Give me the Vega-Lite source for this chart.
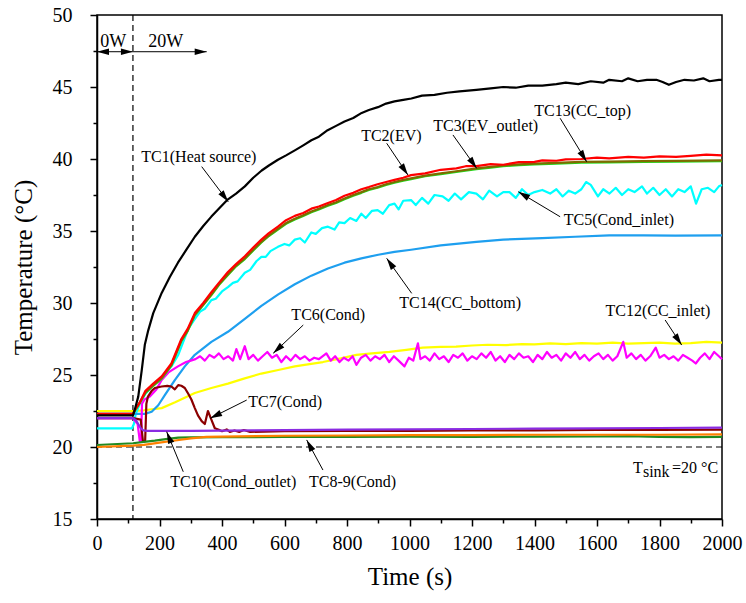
{
  "$schema": "https://vega.github.io/schema/vega-lite/v6.json",
  "width": 625,
  "height": 504,
  "autosize": {"type": "none"},
  "padding": {"left": 97, "top": 15, "right": 24, "bottom": 84},
  "background": "white",
  "config": {
    "font": "Liberation Serif",
    "view": {"stroke": "black", "strokeWidth": 1.5},
    "axis": {"labelFont": "Liberation Serif", "titleFont": "Liberation Serif", "labelFontSize": 20, "titleFontSize": 25, "titleFontWeight": "normal", "labelColor": "black", "titleColor": "black", "domainColor": "black", "tickColor": "black", "domainWidth": 1.5, "tickWidth": 1.5, "grid": false}
  },
  "datasets": {
    "lines": [
      {"s":"TC12","t":0,"v":22.5},{"s":"TC12","t":115,"v":22.5},{"s":"TC12","t":150,"v":22.55},{"s":"TC12","t":207,"v":22.7},{"s":"TC12","t":250,"v":23.1},{"s":"TC12","t":313,"v":23.75},{"s":"TC12","t":366,"v":24.1},{"s":"TC12","t":419,"v":24.4},{"s":"TC12","t":470,"v":24.75},{"s":"TC12","t":526,"v":25.1},{"s":"TC12","t":580,"v":25.35},{"s":"TC12","t":633,"v":25.6},{"s":"TC12","t":680,"v":25.75},{"s":"TC12","t":723,"v":25.9},{"s":"TC12","t":780,"v":26.15},{"s":"TC12","t":830,"v":26.4},{"s":"TC12","t":880,"v":26.5},{"s":"TC12","t":936,"v":26.6},{"s":"TC12","t":990,"v":26.75},{"s":"TC12","t":1042,"v":26.9},{"s":"TC12","t":1100,"v":26.95},{"s":"TC12","t":1149,"v":26.97},{"s":"TC12","t":1200,"v":27.05},{"s":"TC12","t":1250,"v":27.1},{"s":"TC12","t":1309,"v":27.08},{"s":"TC12","t":1360,"v":27.15},{"s":"TC12","t":1400,"v":27.12},{"s":"TC12","t":1450,"v":27.2},{"s":"TC12","t":1500,"v":27.14},{"s":"TC12","t":1550,"v":27.22},{"s":"TC12","t":1600,"v":27.18},{"s":"TC12","t":1650,"v":27.25},{"s":"TC12","t":1700,"v":27.18},{"s":"TC12","t":1750,"v":27.22},{"s":"TC12","t":1800,"v":27.25},{"s":"TC12","t":1850,"v":27.18},{"s":"TC12","t":1900,"v":27.22},{"s":"TC12","t":1950,"v":27.3},{"s":"TC12","t":2000,"v":27.25},

      {"s":"TC5","t":0,"v":21.3},{"s":"TC5","t":112,"v":21.3},{"s":"TC5","t":118,"v":21.6},{"s":"TC5","t":124,"v":22.3},{"s":"TC5","t":137,"v":23.0},{"s":"TC5","t":155,"v":23.7},{"s":"TC5","t":180,"v":24.3},{"s":"TC5","t":207,"v":24.8},{"s":"TC5","t":238,"v":25.6},{"s":"TC5","t":260,"v":26.4},{"s":"TC5","t":292,"v":28.2},{"s":"TC5","t":310,"v":28.8},{"s":"TC5","t":330,"v":29.4},{"s":"TC5","t":345,"v":29.6},{"s":"TC5","t":366,"v":30.2},{"s":"TC5","t":380,"v":30.3},{"s":"TC5","t":400,"v":30.8},{"s":"TC5","t":419,"v":31.1},{"s":"TC5","t":435,"v":31.4},{"s":"TC5","t":450,"v":31.5},{"s":"TC5","t":473,"v":32.1},{"s":"TC5","t":490,"v":32.3},{"s":"TC5","t":510,"v":32.9},{"s":"TC5","t":526,"v":33.2},{"s":"TC5","t":540,"v":33.2},{"s":"TC5","t":555,"v":33.6},{"s":"TC5","t":579,"v":33.9},{"s":"TC5","t":600,"v":34.1},{"s":"TC5","t":615,"v":34.0},{"s":"TC5","t":633,"v":34.4},{"s":"TC5","t":650,"v":34.5},{"s":"TC5","t":665,"v":34.2},{"s":"TC5","t":686,"v":34.9},{"s":"TC5","t":700,"v":34.8},{"s":"TC5","t":720,"v":35.2},{"s":"TC5","t":739,"v":35.3},{"s":"TC5","t":760,"v":35.1},{"s":"TC5","t":775,"v":35.6},{"s":"TC5","t":792,"v":35.55},{"s":"TC5","t":810,"v":35.9},{"s":"TC5","t":830,"v":35.7},{"s":"TC5","t":846,"v":36.2},{"s":"TC5","t":860,"v":35.9},{"s":"TC5","t":880,"v":36.4},{"s":"TC5","t":898,"v":36.45},{"s":"TC5","t":915,"v":36.2},{"s":"TC5","t":935,"v":36.8},{"s":"TC5","t":952,"v":36.9},{"s":"TC5","t":965,"v":36.5},{"s":"TC5","t":980,"v":37.1},{"s":"TC5","t":1005,"v":37.15},{"s":"TC5","t":1020,"v":36.8},{"s":"TC5","t":1040,"v":37.3},{"s":"TC5","t":1060,"v":36.9},{"s":"TC5","t":1080,"v":37.5},{"s":"TC5","t":1106,"v":37.4},{"s":"TC5","t":1125,"v":37.1},{"s":"TC5","t":1145,"v":37.6},{"s":"TC5","t":1165,"v":37.2},{"s":"TC5","t":1190,"v":37.7},{"s":"TC5","t":1214,"v":37.6},{"s":"TC5","t":1235,"v":37.2},{"s":"TC5","t":1255,"v":37.8},{"s":"TC5","t":1280,"v":37.4},{"s":"TC5","t":1300,"v":37.7},{"s":"TC5","t":1320,"v":37.7},{"s":"TC5","t":1340,"v":37.3},{"s":"TC5","t":1360,"v":37.9},{"s":"TC5","t":1380,"v":37.5},{"s":"TC5","t":1400,"v":37.7},{"s":"TC5","t":1425,"v":37.85},{"s":"TC5","t":1450,"v":37.6},{"s":"TC5","t":1470,"v":37.9},{"s":"TC5","t":1490,"v":37.4},{"s":"TC5","t":1510,"v":37.8},{"s":"TC5","t":1530,"v":37.6},{"s":"TC5","t":1550,"v":37.9},{"s":"TC5","t":1565,"v":38.4},{"s":"TC5","t":1580,"v":38.2},{"s":"TC5","t":1603,"v":37.4},{"s":"TC5","t":1620,"v":37.9},{"s":"TC5","t":1640,"v":37.6},{"s":"TC5","t":1660,"v":38.0},{"s":"TC5","t":1680,"v":37.5},{"s":"TC5","t":1700,"v":37.9},{"s":"TC5","t":1720,"v":37.7},{"s":"TC5","t":1744,"v":38.1},{"s":"TC5","t":1760,"v":37.6},{"s":"TC5","t":1780,"v":38.0},{"s":"TC5","t":1800,"v":37.5},{"s":"TC5","t":1820,"v":37.9},{"s":"TC5","t":1840,"v":37.4},{"s":"TC5","t":1860,"v":37.9},{"s":"TC5","t":1880,"v":37.7},{"s":"TC5","t":1900,"v":38.1},{"s":"TC5","t":1917,"v":36.9},{"s":"TC5","t":1935,"v":37.9},{"s":"TC5","t":1955,"v":38.0},{"s":"TC5","t":1975,"v":37.7},{"s":"TC5","t":1990,"v":38.1},{"s":"TC5","t":2000,"v":38.2},

      {"s":"TC14","t":0,"v":22.3},{"s":"TC14","t":115,"v":22.3},{"s":"TC14","t":153,"v":22.3},{"s":"TC14","t":175,"v":22.45},{"s":"TC14","t":196,"v":22.9},{"s":"TC14","t":217,"v":23.6},{"s":"TC14","t":249,"v":24.65},{"s":"TC14","t":281,"v":25.6},{"s":"TC14","t":313,"v":26.4},{"s":"TC14","t":366,"v":27.3},{"s":"TC14","t":419,"v":28.0},{"s":"TC14","t":473,"v":28.9},{"s":"TC14","t":526,"v":29.8},{"s":"TC14","t":580,"v":30.6},{"s":"TC14","t":633,"v":31.3},{"s":"TC14","t":686,"v":31.9},{"s":"TC14","t":739,"v":32.4},{"s":"TC14","t":792,"v":32.8},{"s":"TC14","t":846,"v":33.1},{"s":"TC14","t":900,"v":33.35},{"s":"TC14","t":952,"v":33.55},{"s":"TC14","t":1005,"v":33.7},{"s":"TC14","t":1100,"v":34.0},{"s":"TC14","t":1214,"v":34.25},{"s":"TC14","t":1300,"v":34.4},{"s":"TC14","t":1425,"v":34.5},{"s":"TC14","t":1530,"v":34.6},{"s":"TC14","t":1639,"v":34.7},{"s":"TC14","t":1750,"v":34.7},{"s":"TC14","t":1850,"v":34.68},{"s":"TC14","t":2000,"v":34.7},

      {"s":"TC6","t":0,"v":22.0},{"s":"TC6","t":115,"v":22.0},{"s":"TC6","t":130,"v":21.6},{"s":"TC6","t":137,"v":20.4},{"s":"TC6","t":141,"v":20.4},{"s":"TC6","t":144,"v":23.0},{"s":"TC6","t":152,"v":23.3},{"s":"TC6","t":169,"v":23.5},{"s":"TC6","t":190,"v":24.0},{"s":"TC6","t":207,"v":24.65},{"s":"TC6","t":230,"v":25.2},{"s":"TC6","t":259,"v":25.6},{"s":"TC6","t":285,"v":25.9},{"s":"TC6","t":300,"v":26.0},{"s":"TC6","t":315,"v":26.1},{"s":"TC6","t":330,"v":26.3},{"s":"TC6","t":345,"v":26.0},{"s":"TC6","t":360,"v":26.4},{"s":"TC6","t":375,"v":26.2},{"s":"TC6","t":390,"v":26.5},{"s":"TC6","t":405,"v":26.1},{"s":"TC6","t":420,"v":26.3},{"s":"TC6","t":435,"v":26.0},{"s":"TC6","t":446,"v":26.8},{"s":"TC6","t":458,"v":26.1},{"s":"TC6","t":473,"v":27.0},{"s":"TC6","t":485,"v":26.1},{"s":"TC6","t":500,"v":26.4},{"s":"TC6","t":515,"v":26.0},{"s":"TC6","t":530,"v":26.3},{"s":"TC6","t":545,"v":26.6},{"s":"TC6","t":560,"v":26.2},{"s":"TC6","t":575,"v":26.4},{"s":"TC6","t":590,"v":25.9},{"s":"TC6","t":605,"v":26.3},{"s":"TC6","t":620,"v":26.0},{"s":"TC6","t":635,"v":26.4},{"s":"TC6","t":650,"v":26.1},{"s":"TC6","t":665,"v":26.3},{"s":"TC6","t":680,"v":26.0},{"s":"TC6","t":695,"v":26.2},{"s":"TC6","t":710,"v":26.1},{"s":"TC6","t":734,"v":26.5},{"s":"TC6","t":748,"v":26.0},{"s":"TC6","t":762,"v":26.3},{"s":"TC6","t":776,"v":25.9},{"s":"TC6","t":790,"v":26.2},{"s":"TC6","t":805,"v":26.0},{"s":"TC6","t":818,"v":26.3},{"s":"TC6","t":830,"v":25.7},{"s":"TC6","t":845,"v":26.2},{"s":"TC6","t":860,"v":26.4},{"s":"TC6","t":875,"v":26.0},{"s":"TC6","t":890,"v":26.3},{"s":"TC6","t":905,"v":26.1},{"s":"TC6","t":920,"v":26.4},{"s":"TC6","t":935,"v":25.9},{"s":"TC6","t":950,"v":26.3},{"s":"TC6","t":965,"v":26.0},{"s":"TC6","t":984,"v":25.6},{"s":"TC6","t":998,"v":26.2},{"s":"TC6","t":1012,"v":26.0},{"s":"TC6","t":1027,"v":27.2},{"s":"TC6","t":1035,"v":26.1},{"s":"TC6","t":1050,"v":26.3},{"s":"TC6","t":1065,"v":26.0},{"s":"TC6","t":1080,"v":26.5},{"s":"TC6","t":1095,"v":26.1},{"s":"TC6","t":1110,"v":26.3},{"s":"TC6","t":1125,"v":25.9},{"s":"TC6","t":1140,"v":26.4},{"s":"TC6","t":1155,"v":26.2},{"s":"TC6","t":1170,"v":26.5},{"s":"TC6","t":1185,"v":26.0},{"s":"TC6","t":1200,"v":26.3},{"s":"TC6","t":1215,"v":26.1},{"s":"TC6","t":1230,"v":26.5},{"s":"TC6","t":1245,"v":26.2},{"s":"TC6","t":1260,"v":26.6},{"s":"TC6","t":1275,"v":26.0},{"s":"TC6","t":1290,"v":26.3},{"s":"TC6","t":1305,"v":25.9},{"s":"TC6","t":1320,"v":26.4},{"s":"TC6","t":1335,"v":26.1},{"s":"TC6","t":1350,"v":26.5},{"s":"TC6","t":1365,"v":26.2},{"s":"TC6","t":1380,"v":26.3},{"s":"TC6","t":1395,"v":25.9},{"s":"TC6","t":1410,"v":26.4},{"s":"TC6","t":1425,"v":26.1},{"s":"TC6","t":1440,"v":26.6},{"s":"TC6","t":1455,"v":26.2},{"s":"TC6","t":1470,"v":26.4},{"s":"TC6","t":1485,"v":26.0},{"s":"TC6","t":1500,"v":26.5},{"s":"TC6","t":1515,"v":26.2},{"s":"TC6","t":1530,"v":26.6},{"s":"TC6","t":1545,"v":26.1},{"s":"TC6","t":1560,"v":26.4},{"s":"TC6","t":1575,"v":26.0},{"s":"TC6","t":1590,"v":26.3},{"s":"TC6","t":1605,"v":26.5},{"s":"TC6","t":1620,"v":26.1},{"s":"TC6","t":1635,"v":26.4},{"s":"TC6","t":1650,"v":26.0},{"s":"TC6","t":1665,"v":26.3},{"s":"TC6","t":1684,"v":27.3},{"s":"TC6","t":1695,"v":26.2},{"s":"TC6","t":1710,"v":26.5},{"s":"TC6","t":1725,"v":26.1},{"s":"TC6","t":1740,"v":26.4},{"s":"TC6","t":1755,"v":26.0},{"s":"TC6","t":1770,"v":26.3},{"s":"TC6","t":1788,"v":26.9},{"s":"TC6","t":1800,"v":26.2},{"s":"TC6","t":1815,"v":26.4},{"s":"TC6","t":1830,"v":26.1},{"s":"TC6","t":1845,"v":26.3},{"s":"TC6","t":1860,"v":26.0},{"s":"TC6","t":1875,"v":26.4},{"s":"TC6","t":1890,"v":26.2},{"s":"TC6","t":1905,"v":26.0},{"s":"TC6","t":1916,"v":25.8},{"s":"TC6","t":1930,"v":26.2},{"s":"TC6","t":1945,"v":26.5},{"s":"TC6","t":1960,"v":26.1},{"s":"TC6","t":1975,"v":26.6},{"s":"TC6","t":1990,"v":26.3},{"s":"TC6","t":2000,"v":26.1},

      {"s":"TC7","t":0,"v":22.0},{"s":"TC7","t":115,"v":22.0},{"s":"TC7","t":140,"v":21.9},{"s":"TC7","t":147,"v":20.4},{"s":"TC7","t":154,"v":20.4},{"s":"TC7","t":158,"v":23.0},{"s":"TC7","t":163,"v":23.5},{"s":"TC7","t":175,"v":23.9},{"s":"TC7","t":185,"v":24.1},{"s":"TC7","t":207,"v":24.2},{"s":"TC7","t":225,"v":24.25},{"s":"TC7","t":238,"v":24.2},{"s":"TC7","t":249,"v":24.0},{"s":"TC7","t":260,"v":24.3},{"s":"TC7","t":270,"v":24.25},{"s":"TC7","t":281,"v":24.1},{"s":"TC7","t":292,"v":23.7},{"s":"TC7","t":302,"v":23.3},{"s":"TC7","t":313,"v":22.7},{"s":"TC7","t":323,"v":22.2},{"s":"TC7","t":335,"v":21.8},{"s":"TC7","t":345,"v":21.6},{"s":"TC7","t":355,"v":22.5},{"s":"TC7","t":366,"v":21.9},{"s":"TC7","t":377,"v":21.3},{"s":"TC7","t":390,"v":21.2},{"s":"TC7","t":400,"v":21.1},{"s":"TC7","t":415,"v":21.22},{"s":"TC7","t":425,"v":21.05},{"s":"TC7","t":440,"v":21.15},{"s":"TC7","t":455,"v":21.05},{"s":"TC7","t":470,"v":21.18},{"s":"TC7","t":490,"v":21.05},{"s":"TC7","t":600,"v":21.1},{"s":"TC7","t":800,"v":21.12},{"s":"TC7","t":1000,"v":21.12},{"s":"TC7","t":1200,"v":21.15},{"s":"TC7","t":1400,"v":21.15},{"s":"TC7","t":1600,"v":21.18},{"s":"TC7","t":1800,"v":21.18},{"s":"TC7","t":2000,"v":21.2},

      {"s":"TC8","t":0,"v":20.14},{"s":"TC8","t":115,"v":20.26},{"s":"TC8","t":150,"v":20.35},{"s":"TC8","t":185,"v":20.44},{"s":"TC8","t":220,"v":20.55},{"s":"TC8","t":260,"v":20.65},{"s":"TC8","t":300,"v":20.67},{"s":"TC8","t":400,"v":20.68},{"s":"TC8","t":600,"v":20.7},{"s":"TC8","t":800,"v":20.7},{"s":"TC8","t":1000,"v":20.72},{"s":"TC8","t":1200,"v":20.7},{"s":"TC8","t":1400,"v":20.72},{"s":"TC8","t":1600,"v":20.73},{"s":"TC8","t":1700,"v":20.75},{"s":"TC8","t":1800,"v":20.7},{"s":"TC8","t":1900,"v":20.68},{"s":"TC8","t":2000,"v":20.7},

      {"s":"TC9","t":0,"v":20.0},{"s":"TC9","t":115,"v":20.1},{"s":"TC9","t":150,"v":20.15},{"s":"TC9","t":200,"v":20.3},{"s":"TC9","t":250,"v":20.45},{"s":"TC9","t":300,"v":20.6},{"s":"TC9","t":350,"v":20.7},{"s":"TC9","t":400,"v":20.72},{"s":"TC9","t":600,"v":20.78},{"s":"TC9","t":800,"v":20.8},{"s":"TC9","t":1000,"v":20.82},{"s":"TC9","t":1200,"v":20.83},{"s":"TC9","t":1400,"v":20.85},{"s":"TC9","t":1600,"v":20.85},{"s":"TC9","t":1800,"v":20.85},{"s":"TC9","t":2000,"v":20.87},

      {"s":"TC10","t":0,"v":22.0},{"s":"TC10","t":115,"v":22.0},{"s":"TC10","t":125,"v":21.85},{"s":"TC10","t":132,"v":21.6},{"s":"TC10","t":140,"v":21.3},{"s":"TC10","t":148,"v":21.15},{"s":"TC10","t":160,"v":21.12},{"s":"TC10","t":300,"v":21.12},{"s":"TC10","t":500,"v":21.15},{"s":"TC10","t":800,"v":21.2},{"s":"TC10","t":1000,"v":21.22},{"s":"TC10","t":1200,"v":21.25},{"s":"TC10","t":1400,"v":21.28},{"s":"TC10","t":1600,"v":21.3},{"s":"TC10","t":1800,"v":21.32},{"s":"TC10","t":2000,"v":21.35},

      {"s":"TC3","t":0,"v":22.25},{"s":"TC3","t":115,"v":22.25},{"s":"TC3","t":122,"v":22.55},{"s":"TC3","t":137,"v":23.05},{"s":"TC3","t":155,"v":23.75},{"s":"TC3","t":180,"v":24.25},{"s":"TC3","t":207,"v":24.75},{"s":"TC3","t":238,"v":25.65},{"s":"TC3","t":255,"v":26.55},{"s":"TC3","t":270,"v":27.35},{"s":"TC3","t":290,"v":28.05},{"s":"TC3","t":313,"v":29.15},{"s":"TC3","t":340,"v":29.85},{"s":"TC3","t":366,"v":30.55},{"s":"TC3","t":390,"v":31.25},{"s":"TC3","t":419,"v":31.95},{"s":"TC3","t":445,"v":32.55},{"s":"TC3","t":473,"v":33.05},{"s":"TC3","t":500,"v":33.65},{"s":"TC3","t":526,"v":34.2},{"s":"TC3","t":550,"v":34.65},{"s":"TC3","t":579,"v":35.1},{"s":"TC3","t":605,"v":35.5},{"s":"TC3","t":633,"v":35.8},{"s":"TC3","t":660,"v":36.05},{"s":"TC3","t":686,"v":36.3},{"s":"TC3","t":710,"v":36.5},{"s":"TC3","t":739,"v":36.75},{"s":"TC3","t":765,"v":36.95},{"s":"TC3","t":792,"v":37.2},{"s":"TC3","t":820,"v":37.45},{"s":"TC3","t":846,"v":37.65},{"s":"TC3","t":870,"v":37.85},{"s":"TC3","t":898,"v":38.0},{"s":"TC3","t":925,"v":38.2},{"s":"TC3","t":952,"v":38.35},{"s":"TC3","t":980,"v":38.5},{"s":"TC3","t":1005,"v":38.6},{"s":"TC3","t":1050,"v":38.8},{"s":"TC3","t":1100,"v":38.95},{"s":"TC3","t":1150,"v":39.1},{"s":"TC3","t":1214,"v":39.3},{"s":"TC3","t":1260,"v":39.4},{"s":"TC3","t":1300,"v":39.5},{"s":"TC3","t":1350,"v":39.57},{"s":"TC3","t":1400,"v":39.63},{"s":"TC3","t":1470,"v":39.68},{"s":"TC3","t":1550,"v":39.75},{"s":"TC3","t":1639,"v":39.77},{"s":"TC3","t":1750,"v":39.8},{"s":"TC3","t":1853,"v":39.82},{"s":"TC3","t":2000,"v":39.85},

      {"s":"TC13","t":0,"v":22.3},{"s":"TC13","t":115,"v":22.3},{"s":"TC13","t":122,"v":22.6},{"s":"TC13","t":137,"v":23.1},{"s":"TC13","t":155,"v":23.8},{"s":"TC13","t":180,"v":24.3},{"s":"TC13","t":207,"v":24.8},{"s":"TC13","t":238,"v":25.7},{"s":"TC13","t":255,"v":26.6},{"s":"TC13","t":270,"v":27.4},{"s":"TC13","t":290,"v":28.1},{"s":"TC13","t":313,"v":29.2},{"s":"TC13","t":340,"v":29.9},{"s":"TC13","t":366,"v":30.6},{"s":"TC13","t":390,"v":31.3},{"s":"TC13","t":419,"v":32.0},{"s":"TC13","t":445,"v":32.6},{"s":"TC13","t":473,"v":33.1},{"s":"TC13","t":500,"v":33.7},{"s":"TC13","t":526,"v":34.25},{"s":"TC13","t":550,"v":34.7},{"s":"TC13","t":579,"v":35.15},{"s":"TC13","t":605,"v":35.55},{"s":"TC13","t":633,"v":35.85},{"s":"TC13","t":660,"v":36.1},{"s":"TC13","t":686,"v":36.35},{"s":"TC13","t":710,"v":36.55},{"s":"TC13","t":739,"v":36.8},{"s":"TC13","t":765,"v":37.0},{"s":"TC13","t":792,"v":37.25},{"s":"TC13","t":820,"v":37.5},{"s":"TC13","t":846,"v":37.7},{"s":"TC13","t":870,"v":37.9},{"s":"TC13","t":898,"v":38.05},{"s":"TC13","t":925,"v":38.25},{"s":"TC13","t":952,"v":38.4},{"s":"TC13","t":980,"v":38.55},{"s":"TC13","t":1005,"v":38.65},{"s":"TC13","t":1050,"v":38.85},{"s":"TC13","t":1100,"v":39.0},{"s":"TC13","t":1150,"v":39.15},{"s":"TC13","t":1214,"v":39.35},{"s":"TC13","t":1260,"v":39.45},{"s":"TC13","t":1300,"v":39.55},{"s":"TC13","t":1350,"v":39.62},{"s":"TC13","t":1400,"v":39.68},{"s":"TC13","t":1470,"v":39.73},{"s":"TC13","t":1550,"v":39.8},{"s":"TC13","t":1639,"v":39.82},{"s":"TC13","t":1750,"v":39.85},{"s":"TC13","t":1853,"v":39.87},{"s":"TC13","t":2000,"v":39.9},

      {"s":"TC2","t":0,"v":22.3},{"s":"TC2","t":115,"v":22.3},{"s":"TC2","t":122,"v":22.6},{"s":"TC2","t":137,"v":23.1},{"s":"TC2","t":155,"v":23.9},{"s":"TC2","t":180,"v":24.4},{"s":"TC2","t":207,"v":24.9},{"s":"TC2","t":238,"v":25.8},{"s":"TC2","t":255,"v":26.7},{"s":"TC2","t":270,"v":27.5},{"s":"TC2","t":290,"v":28.2},{"s":"TC2","t":313,"v":29.3},{"s":"TC2","t":340,"v":30.0},{"s":"TC2","t":366,"v":30.75},{"s":"TC2","t":390,"v":31.4},{"s":"TC2","t":419,"v":32.15},{"s":"TC2","t":445,"v":32.7},{"s":"TC2","t":473,"v":33.25},{"s":"TC2","t":500,"v":33.85},{"s":"TC2","t":526,"v":34.4},{"s":"TC2","t":550,"v":34.85},{"s":"TC2","t":579,"v":35.3},{"s":"TC2","t":605,"v":35.75},{"s":"TC2","t":633,"v":36.05},{"s":"TC2","t":660,"v":36.25},{"s":"TC2","t":686,"v":36.55},{"s":"TC2","t":710,"v":36.7},{"s":"TC2","t":739,"v":36.95},{"s":"TC2","t":765,"v":37.15},{"s":"TC2","t":792,"v":37.45},{"s":"TC2","t":820,"v":37.65},{"s":"TC2","t":846,"v":37.9},{"s":"TC2","t":870,"v":38.05},{"s":"TC2","t":898,"v":38.25},{"s":"TC2","t":925,"v":38.4},{"s":"TC2","t":952,"v":38.55},{"s":"TC2","t":980,"v":38.7},{"s":"TC2","t":1005,"v":38.88},{"s":"TC2","t":1050,"v":39.0},{"s":"TC2","t":1100,"v":39.25},{"s":"TC2","t":1150,"v":39.35},{"s":"TC2","t":1180,"v":39.5},{"s":"TC2","t":1214,"v":39.5},{"s":"TC2","t":1260,"v":39.65},{"s":"TC2","t":1300,"v":39.6},{"s":"TC2","t":1350,"v":39.78},{"s":"TC2","t":1400,"v":39.8},{"s":"TC2","t":1425,"v":39.9},{"s":"TC2","t":1470,"v":39.88},{"s":"TC2","t":1500,"v":39.98},{"s":"TC2","t":1550,"v":40.0},{"s":"TC2","t":1600,"v":40.1},{"s":"TC2","t":1639,"v":40.05},{"s":"TC2","t":1700,"v":40.15},{"s":"TC2","t":1750,"v":40.1},{"s":"TC2","t":1800,"v":40.18},{"s":"TC2","t":1853,"v":40.15},{"s":"TC2","t":1900,"v":40.22},{"s":"TC2","t":1950,"v":40.3},{"s":"TC2","t":2000,"v":40.25},

      {"s":"TC1","t":0,"v":22.2},{"s":"TC1","t":115,"v":22.2},{"s":"TC1","t":121,"v":22.6},{"s":"TC1","t":132,"v":23.5},{"s":"TC1","t":143,"v":25.3},{"s":"TC1","t":153,"v":27.1},{"s":"TC1","t":164,"v":28.1},{"s":"TC1","t":180,"v":29.3},{"s":"TC1","t":207,"v":30.7},{"s":"TC1","t":233,"v":31.8},{"s":"TC1","t":259,"v":32.8},{"s":"TC1","t":286,"v":33.7},{"s":"TC1","t":313,"v":34.6},{"s":"TC1","t":340,"v":35.35},{"s":"TC1","t":366,"v":36.0},{"s":"TC1","t":392,"v":36.6},{"s":"TC1","t":419,"v":37.2},{"s":"TC1","t":445,"v":37.6},{"s":"TC1","t":473,"v":38.1},{"s":"TC1","t":500,"v":38.7},{"s":"TC1","t":527,"v":39.2},{"s":"TC1","t":550,"v":39.55},{"s":"TC1","t":579,"v":39.95},{"s":"TC1","t":605,"v":40.25},{"s":"TC1","t":633,"v":40.6},{"s":"TC1","t":660,"v":40.95},{"s":"TC1","t":686,"v":41.3},{"s":"TC1","t":710,"v":41.55},{"s":"TC1","t":738,"v":42.0},{"s":"TC1","t":765,"v":42.3},{"s":"TC1","t":792,"v":42.6},{"s":"TC1","t":820,"v":42.85},{"s":"TC1","t":847,"v":43.2},{"s":"TC1","t":870,"v":43.4},{"s":"TC1","t":899,"v":43.6},{"s":"TC1","t":925,"v":43.85},{"s":"TC1","t":952,"v":44.0},{"s":"TC1","t":980,"v":44.1},{"s":"TC1","t":1006,"v":44.2},{"s":"TC1","t":1040,"v":44.4},{"s":"TC1","t":1080,"v":44.45},{"s":"TC1","t":1120,"v":44.6},{"s":"TC1","t":1160,"v":44.7},{"s":"TC1","t":1214,"v":44.8},{"s":"TC1","t":1260,"v":44.9},{"s":"TC1","t":1300,"v":45.0},{"s":"TC1","t":1340,"v":44.95},{"s":"TC1","t":1380,"v":45.1},{"s":"TC1","t":1425,"v":45.1},{"s":"TC1","t":1470,"v":45.2},{"s":"TC1","t":1500,"v":45.3},{"s":"TC1","t":1540,"v":45.2},{"s":"TC1","t":1580,"v":45.4},{"s":"TC1","t":1620,"v":45.3},{"s":"TC1","t":1639,"v":45.5},{"s":"TC1","t":1680,"v":45.4},{"s":"TC1","t":1700,"v":45.6},{"s":"TC1","t":1730,"v":45.4},{"s":"TC1","t":1760,"v":45.5},{"s":"TC1","t":1790,"v":45.5},{"s":"TC1","t":1810,"v":45.35},{"s":"TC1","t":1830,"v":45.15},{"s":"TC1","t":1853,"v":45.35},{"s":"TC1","t":1880,"v":45.5},{"s":"TC1","t":1910,"v":45.45},{"s":"TC1","t":1940,"v":45.6},{"s":"TC1","t":1960,"v":45.4},{"s":"TC1","t":1990,"v":45.5},{"s":"TC1","t":2000,"v":45.5}
    ],
    "arrows": [
      {"t":335,"v":39.47,"t2":420,"v2":37.03},
      {"t":927,"v":41.09,"t2":995,"v2":38.89},
      {"t":1139,"v":41.67,"t2":1215,"v2":39.35},
      {"t":1482,"v":42.83,"t2":1567,"v2":39.81},
      {"t":1482,"v":35.99,"t2":1348,"v2":37.73},
      {"t":1007,"v":30.67,"t2":927,"v2":33.1},
      {"t":660,"v":28.47,"t2":564,"v2":26.51},
      {"t":479,"v":23.26,"t2":362,"v2":21.99},
      {"t":276,"v":18.28,"t2":223,"v2":21.06},
      {"t":723,"v":18.4,"t2":671,"v2":20.49},
      {"t":1818,"v":28.82,"t2":1871,"v2":27.08},
      {"t":0,"v":47.45,"t2":115,"v2":47.45},
      {"t":115,"v":47.45,"t2":351,"v2":47.45}
    ],
    "heads": [
      {"t":420,"v":37.03,"a":143},
      {"t":995,"v":38.89,"a":146},
      {"t":1215,"v":39.35,"a":145},
      {"t":1567,"v":39.81,"a":148},
      {"t":1348,"v":37.73,"a":-59},
      {"t":927,"v":33.1,"a":-35},
      {"t":564,"v":26.51,"a":-133},
      {"t":362,"v":21.99,"a":-116},
      {"t":223,"v":21.06,"a":-22},
      {"t":671,"v":20.49,"a":-28},
      {"t":1871,"v":27.08,"a":146},
      {"t":0,"v":47.45,"a":-90},
      {"t":115,"v":47.45,"a":90},
      {"t":351,"v":47.45,"a":90}
    ],
    "labels": [
      {"text":"0W","t":52,"v":47.76,"fs":18},
      {"text":"20W","t":220,"v":47.76,"fs":18},
      {"text":"TC1(Heat source)","t":326,"v":39.81,"fs":16},
      {"text":"TC2(EV)","t":942,"v":41.25,"fs":16},
      {"text":"TC3(EV_outlet)","t":1244,"v":41.94,"fs":16},
      {"text":"TC13(CC_top)","t":1554,"v":42.99,"fs":16},
      {"text":"TC5(Cond_inlet)","t":1670,"v":35.42,"fs":16},
      {"text":"TC14(CC_bottom)","t":1162,"v":29.65,"fs":16},
      {"text":"TC6(Cond)","t":740,"v":28.82,"fs":16},
      {"text":"TC7(Cond)","t":602,"v":22.8,"fs":16},
      {"text":"TC10(Cond_outlet)","t":436,"v":17.24,"fs":16},
      {"text":"TC8-9(Cond)","t":818,"v":17.24,"fs":16},
      {"text":"TC12(CC_inlet)","t":1795,"v":29.1,"fs":16}
    ],
    "sink": [
      {"text":"T","t":1715,"v":18.17},
      {"text":"sink","t":1747,"v":17.94},
      {"text":"=20 °C","t":1840,"v":18.17}
    ]
  },
  "encoding": {
    "x": {"field": "t", "type": "quantitative", "scale": {"domain": [0, 2000], "nice": false, "zero": false},
      "axis": {"title": "Time (s)", "values": [0,100,200,300,400,500,600,700,800,900,1000,1100,1200,1300,1400,1500,1600,1700,1800,1900,2000],
        "labelExpr": "datum.value % 200 === 0 ? datum.label : ''", "format": "d",
        "labelFont": "Liberation Serif", "titleFont": "Liberation Serif",
        "tickSize": {"condition": {"test": "datum.value % 200 !== 0", "value": 4}, "value": 7},
        "labelPadding": 7, "titlePadding": 11, "labelFlush": false, "labelOverlap": false}},
    "y": {"field": "v", "type": "quantitative", "scale": {"domain": [15, 50], "nice": false, "zero": false},
      "axis": {"title": "Temperature (°C)", "values": [15,17.5,20,22.5,25,27.5,30,32.5,35,37.5,40,42.5,45,47.5,50],
        "labelExpr": "datum.value % 5 === 0 ? format(datum.value, 'd') : ''",
        "labelFont": "Liberation Serif", "titleFont": "Liberation Serif",
        "tickSize": {"condition": {"test": "datum.value % 5 !== 0", "value": 4}, "value": 7},
        "labelPadding": 18, "titlePadding": 16, "labelOverlap": false}}
  },
  "layer": [
    {"data": {"values": [{"t": 115}]}, "mark": {"type": "rule", "strokeDash": [6, 4], "color": "black", "strokeWidth": 1.2}, "encoding": {"x": {"field": "t", "type": "quantitative"}, "y": null}},
    {"data": {"values": [{"v": 20}]}, "mark": {"type": "rule", "strokeDash": [6, 4], "color": "black", "strokeWidth": 1.2}, "encoding": {"y": {"field": "v", "type": "quantitative"}, "x": null}},
    {"data": {"name": "lines"}, "mark": {"type": "line", "strokeWidth": 2.2, "strokeJoin": "round"},
      "encoding": {"color": {"field": "s", "type": "nominal", "legend": null,
        "scale": {"domain": ["TC12","TC5","TC14","TC6","TC7","TC8","TC9","TC10","TC3","TC13","TC2","TC1"],
                  "range": ["#FFFF00","#00FFFF","#1E9FEF","#FF00FF","#8B0000","#218A21","#FF8000","#8A2BE2","#1EE01E","#7F6A00","#FF0000","#000000"]}}}},
    {"data": {"name": "arrows"}, "mark": {"type": "rule", "color": "black", "strokeWidth": 1},
      "encoding": {"x2": {"field": "t2"}, "y2": {"field": "v2"}}},
    {"data": {"name": "heads"}, "mark": {"type": "point", "shape": "M0,0L0.55,2L-0.55,2Z", "filled": true, "color": "black", "size": 144, "opacity": 1},
      "encoding": {"angle": {"field": "a", "type": "quantitative", "scale": null}}},
    {"data": {"name": "labels"}, "mark": {"type": "text", "baseline": "alphabetic", "align": "center", "font": "Liberation Serif", "color": "black"},
      "encoding": {"text": {"field": "text"}, "size": {"field": "fs", "type": "quantitative", "scale": null}}},
    {"data": {"name": "sink"}, "mark": {"type": "text", "baseline": "alphabetic", "align": "left", "font": "Liberation Serif", "fontSize": 16, "color": "black"},
      "encoding": {"text": {"field": "text"}}}
  ]
}
